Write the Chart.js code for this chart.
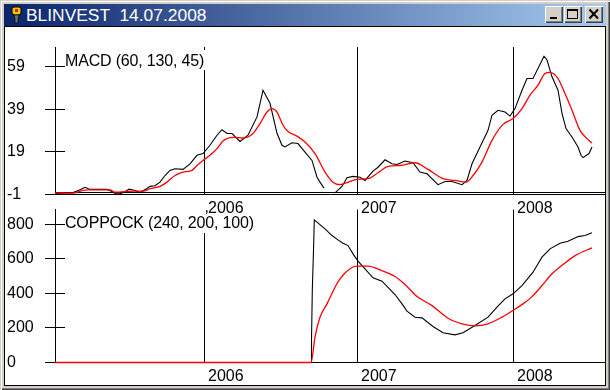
<!DOCTYPE html>
<html>
<head>
<meta charset="utf-8">
<title>BLINVEST</title>
<script src="https://cdn.jsdelivr.net/npm/chart.js@4"></script>
<style>
    html, body { margin: 0; padding: 0; background: #d4d0c8; }
    #win { position: absolute; left: 0; top: 0; width: 610px; height: 390px; background: #d4d0c8; overflow: hidden;
           box-shadow: inset 1px 1px 0 #d4d0c8, inset 2px 2px 0 #fff, inset -1px -1px 0 #404040, inset -2px -2px 0 #808080; }
    #bar { position: absolute; left: 4px; top: 4px; width: 602px; height: 22px; background: linear-gradient(to right, #0a246a, #a6caf0); }
    #title { position: absolute; left: 22px; top: 1px; color: #fff; font: 17.4px/20px "Liberation Sans", sans-serif; white-space: pre; }
    #icon { position: absolute; left: 7px; top: 2px; }
    .btn { position: absolute; top: 2px; width: 18px; height: 17px; background: #d4d0c8;
           box-shadow: inset 1px 1px 0 #fff, inset -1px -1px 0 #404040, inset -2px -2px 0 #808080; }
    .btn svg { position: absolute; left: 0; top: 0; }
    #client { position: absolute; left: 4px; top: 26px; width: 600px; height: 358px; background: #fff; border: 1px solid #000; }
    canvas { position: absolute; left: 0; }
</style>
</head>
<body>
<div id="win">
    <div id="bar">
        <svg id="icon" width="12" height="18" viewBox="0 0 12 18">
            <path d="M1 2 L3 1 L8 1 L10 2 L10 7 L8 9 L3 9 L1 7 Z" fill="#e8c800" stroke="#000"/>
            <rect x="4" y="3" width="3" height="3" fill="#e02020"/>
            <path d="M3 9 L8 9 L7 13 L7 17 L4 17 L4 13 Z" fill="#707070" stroke="#000" stroke-width="0.7"/>
        </svg>
        <div id="title">BLINVEST  14.07.2008</div>
        <div class="btn" style="left:541px"><svg width="18" height="17"><rect x="5" y="11" width="7" height="2" fill="#000"/></svg></div>
        <div class="btn" style="left:560px"><svg width="18" height="17"><rect x="3.5" y="3.5" width="10" height="9" fill="none" stroke="#000"/><rect x="3" y="3" width="11" height="2" fill="#000"/></svg></div>
        <div class="btn" style="left:581px"><svg width="18" height="17"><path d="M4.5 3.5 L13 12.5 M13 3.5 L4.5 12.5" stroke="#000" stroke-width="2" fill="none"/></svg></div>
    </div>
    <div id="client"></div>
    <canvas id="coppock" width="610" height="185" style="top:200px"></canvas>
    <canvas id="macd" width="610" height="190" style="top:27px"></canvas>
</div>
<script>
// the x axis counts bars from the first bar of the file
const yearBars   = [149, 302, 458]
const yearLabels = ['2006', '2007', '2008']

const macdTicks    = [-1, 19, 39, 59]
const coppockTicks = [0, 200, 400, 600, 800]

const macdBars = [0, 18, 24, 30, 35, 42, 52, 57, 61, 65, 71, 74, 80, 85, 92, 95, 100, 105, 110, 115, 120, 128, 135, 142, 148, 155, 162, 167, 172, 177, 185, 193, 202, 208, 215, 222, 227, 230, 237, 243, 250, 257, 262, 265, 269, 274, 280, 287, 292, 298, 305, 310, 318, 323, 330, 337, 342, 350, 358, 365, 372, 383, 390, 397, 407, 412, 417, 425, 433, 437, 443, 450, 455, 460, 467, 472, 478, 489, 492, 497, 503, 507, 511, 517, 523, 526, 528, 534, 537]
const macdLine = [-0.5, -0.1, 1.0, 2.4, 1.4, 1.4, 1.4, 0.4, -0.7, -0.7, 0.6, 1.5, 0.9, -0.1, 1.8, 2.8, 3.1, 4.8, 7.9, 10.3, 11.1, 10.8, 13.4, 17.4, 18.2, 22.1, 26.8, 29.4, 27.6, 27.6, 23.9, 26.8, 35.4, 47.9, 41.8, 27.7, 22.1, 21.3, 23.3, 22.9, 18.9, 15, 7.1, 4.8, 2, null, -0.2, 2.8, 6.9, 7.5, 7.1, 5.6, 10, 11.8, 15.3, 13.4, 13.1, 14.7, 13.9, 9.5, 8.7, 3.6, 5.1, 5.1, 3.6, 5.6, 13.4, 21.3, 29.1, 36.2, 38.5, 37.7, 35.8, 39.3, 47.9, 53.4, 53.4, 63.9, 62.1, 54.2, 47.9, 37.1, 29.9, 26, 21.3, 17.4, 16.3, 18.2, 21.3]

const macdSignalBars = [0, 18, 28, 33, 55, 60, 78, 88, 95, 105, 112, 120, 128, 137, 142, 148, 155, 162, 168, 178, 188, 198, 205, 212, 217, 222, 228, 233, 242, 250, 260, 270, 278, 285, 293, 302, 313, 323, 333, 345, 360, 373, 388, 400, 411, 418, 427, 437, 448, 458, 467, 475, 483, 490, 495, 503, 510, 517, 525, 532, 537]
const macdSignal = [-0.2, -0.4, 0.9, 1.2, 1.2, 0.1, 0.6, 0.6, 1.7, 2.8, 4.8, 7.9, 9.5, 10.3, 12.6, 15, 17.4, 20.5, 24.1, 25.8, 25.5, 27.6, 32.3, 37.7, 39.3, 37.7, 31.5, 28.6, 26.4, 23.6, 18.2, 9.5, 4.8, 3.6, 4.8, 6.1, 6.4, 9.2, 12.2, 12.6, 13.9, 10.8, 6.4, 5.6, 4.8, 7.9, 14.2, 24.4, 31.9, 34.6, 39.3, 45.6, 50.3, 55.8, 56.3, 53.4, 46.4, 38.5, 29.1, 25.2, 23.1]

const coppockBars = [0, 256, 256.5, 257.3, 258.7, 259.3, 270, 277, 283, 288, 293, 298, 303, 310, 318, 327, 340, 347, 352, 360, 367, 378, 388, 400, 408, 420, 433, 442, 450, 458, 467, 478, 487, 495, 505, 513, 523, 530, 537]
const coppockLine = [0, 0, 127, 416, 688, 825, 773, 734, 709, 690, 676, 628, 586, 542, 490, 470, 393, 339, 297, 262, 258, 208, 172, 160, 172, 214, 262, 320, 368, 397, 445, 522, 609, 657, 690, 701, 728, 734, 750]

const coppockSignalBars = [0, 256, 260, 265, 272, 280, 285, 295, 302, 313, 325, 340, 350, 362, 377, 393, 407, 420, 433, 447, 458, 468, 477, 487, 497, 508, 520, 537]
const coppockSignal = [0, 0, 146, 262, 339, 435, 484, 542, 557, 557, 536, 497, 451, 381, 329, 256, 224, 212, 224, 262, 301, 339, 381, 445, 513, 566, 618, 663]

const FONT = { family: '"Liberation Sans", sans-serif', size: 16 }

function pontos(bars, values) {
    return bars.map((bar, i) => ({ x: bar, y: values[i] }))
}

// inner half of the y ticks, the zero line and the white label box
function painelPlugin(titulo, boxTop, boxHeight, textY, comma) {
    return {
        id: 'painel',
        beforeDatasetsDraw(chart) {
            const { ctx, chartArea, scales: { y } } = chart
            ctx.save()
            ctx.strokeStyle = '#000'
            ctx.lineWidth = 1
            ctx.beginPath()
            y.ticks.forEach((t) => {
                const py = Math.floor(y.getPixelForValue(t.value)) + 0.5
                ctx.moveTo(chartArea.left, py)
                ctx.lineTo(chartArea.left + 10, py)
            })
            const zero = Math.floor(y.getPixelForValue(0)) + 0.5
            ctx.moveTo(chartArea.left, zero)
            ctx.lineTo(chartArea.right, zero)
            ctx.stroke()
            ctx.restore()
        },
        afterDraw(chart) {
            const { ctx, chartArea, scales: { x } } = chart
            ctx.save()
            ctx.font = `${FONT.size}px ${FONT.family}`
            ctx.letterSpacing = '-0.18px'
            ctx.textBaseline = 'middle'
            const textX = chartArea.left + 10
            const w = ctx.measureText(titulo).width
            ctx.fillStyle = '#fff'
            ctx.fillRect(textX, boxTop, w + 1, boxHeight)
            ctx.fillStyle = '#000'
            ctx.fillText(titulo, textX, textY)
            if (comma) {
                ctx.textBaseline = 'alphabetic'
                ctx.fillText(',', x.getPixelForValue(yearBars[0]) + 0.5, chartArea.bottom + 17.5)
            }
            ctx.restore()
        }
    }
}

function painel(id, opts) {
    return new Chart(document.getElementById(id), {
        type: 'line',
        data: {
            datasets: [
                { data: pontos(opts.lineBars, opts.line), borderColor: '#000', borderWidth: 1.1, pointRadius: 0, tension: 0, spanGaps: false, clip: 3, order: 1 },
                { data: pontos(opts.signalBars, opts.signal), borderColor: '#f00', borderWidth: 1.3, pointRadius: 0, cubicInterpolationMode: 'monotone', clip: 3, order: 0 }
            ]
        },
        options: {
            responsive: false,
            animation: false,
            events: [],
            parsing: false,
            layout: { padding: { left: 7, right: 5, top: opts.top, bottom: 0 } },
            plugins: { legend: { display: false }, tooltip: { enabled: false } },
            scales: {
                x: {
                    type: 'linear', min: 0, max: 550,
                    afterBuildTicks: (s) => { s.ticks = yearBars.map((value) => ({ value })) },
                    afterFit: (s) => { s.height = 22.5 },
                    grid: { color: '#000', drawTicks: false },
                    border: { color: '#000' },
                    ticks: {
                        autoSkip: false, maxRotation: 0, align: 'start', padding: 4, labelOffset: 4,
                        color: '#000', font: FONT,
                        callback: (v) => yearLabels[yearBars.indexOf(v)]
                    }
                },
                y: {
                    type: 'linear', min: opts.min, max: opts.max,
                    afterBuildTicks: (s) => { s.ticks = opts.ticks.map((value) => ({ value })) },
                    afterFit: (s) => { s.width = 48 },
                    grid: { color: '#000', drawOnChartArea: false, tickLength: 10 },
                    border: { color: '#000' },
                    ticks: { crossAlign: 'far', color: '#000', font: FONT, padding: 0, autoSkip: false }
                }
            }
        },
        plugins: [painelPlugin(opts.title, opts.boxTop, opts.boxHeight, opts.textY, opts.comma)]
    })
}

painel('coppock', {
    title: 'COPPOCK (240, 200, 100)', top: 9, min: 0, max: 884, ticks: coppockTicks,
    lineBars: coppockBars, line: coppockLine, signalBars: coppockSignalBars, signal: coppockSignal,
    boxTop: 9, boxHeight: 24, textY: 24, comma: false
})

painel('macd', {
    title: 'MACD (60, 130, 45)', top: 20, min: -1, max: 68.2, ticks: macdTicks,
    lineBars: macdBars, line: macdLine, signalBars: macdSignalBars, signal: macdSignal,
    boxTop: 23, boxHeight: 20, textY: 35, comma: true
})
</script>
</body>
</html>
